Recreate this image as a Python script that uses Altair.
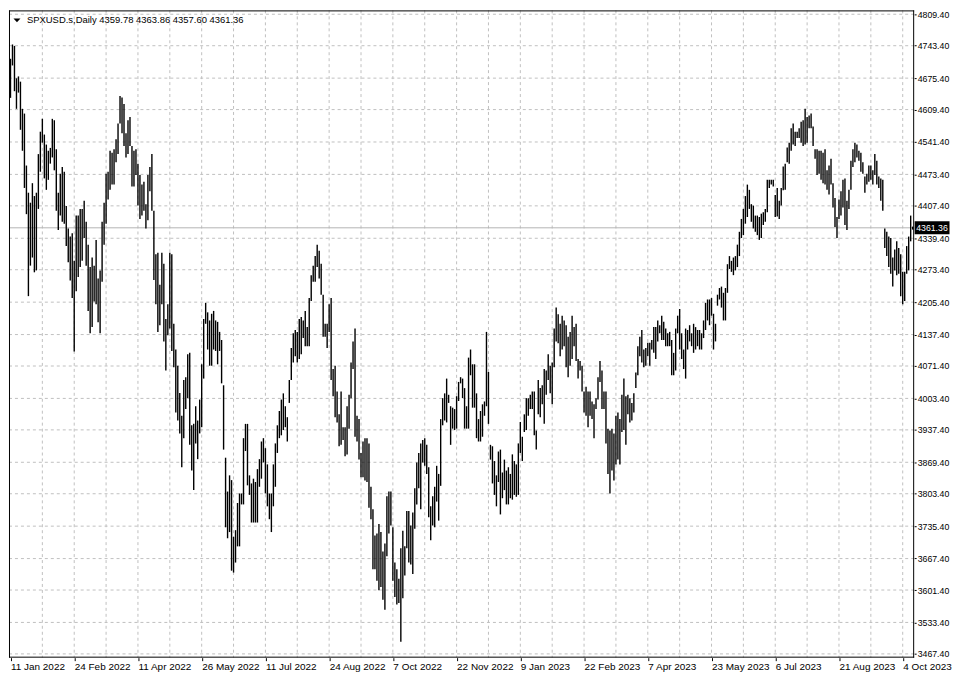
import altair as alt
import pandas as pd

# ---- data (daily bars, high / low) ----
highs = [
    4716, 4746, 4743, 4675, 4679, 4668, 4611, 4601, 4492, 4435,
    4414, 4455, 4428, 4435, 4516, 4563, 4590, 4557, 4536, 4523,
    4529, 4590, 4587, 4526, 4435, 4475, 4489, 4479, 4407, 4360,
    4343, 4350, 4292, 4387, 4387, 4401, 4401, 4418, 4374, 4326,
    4279, 4299, 4282, 4336, 4255, 4272, 4374, 4414, 4475, 4479,
    4523, 4519, 4526, 4547, 4580, 4638, 4635, 4621, 4560, 4587,
    4594, 4533, 4523, 4526, 4496, 4472, 4452, 4458, 4411, 4472,
    4489, 4516, 4397, 4306, 4309, 4242, 4309, 4286, 4170, 4201,
    4309, 4306, 4160, 4106, 4072, 4015, 3967, 4042, 4048, 4096,
    4099, 3947, 3950, 3987, 3957, 4001, 4075, 4170, 4204, 4184,
    4167, 4181, 4187, 4167, 4164, 4143, 4126, 4031, 3879, 3808,
    3842, 3832, 3713, 3727, 3784, 3804, 3804, 3920, 3950, 3950,
    3842, 3825, 3835, 3828, 3855, 3876, 3913, 3920, 3899, 3865,
    3804, 3804, 3865, 3909, 3947, 3977, 4001, 4014, 3987, 3964,
    4042, 4109, 4140, 4147, 4143, 4170, 4174, 4167, 4187, 4153,
    4214, 4262, 4282, 4302, 4326, 4313, 4286, 4221, 4160, 4160,
    4201, 4214, 4065, 4072, 4018, 3970, 4018, 3943, 3943, 3987,
    4011, 4079, 4123, 4150, 3967, 3960, 3889, 3913, 3920, 3920,
    3909, 3818, 3771, 3716, 3720, 3740, 3723, 3682, 3699, 3798,
    3808, 3808, 3733, 3659, 3645, 3625, 3689, 3726, 3693, 3767,
    3767, 3737, 3764, 3815, 3869, 3889, 3909, 3916, 3920, 3906,
    3859, 3777, 3798, 3818, 3862, 3845, 3960, 4004, 4014, 4045,
    4011, 3987, 3984, 3981, 4008, 4038, 4048, 4045, 4025, 3987,
    4089, 4106, 4075, 4075, 4014, 3960, 3977, 3991, 3997, 4143,
    4059, 3906, 3903, 3872, 3842, 3892, 3896, 3848, 3875, 3852,
    3859, 3845, 3886, 3872, 3865, 3909, 3954, 3923, 3970, 4004,
    4004, 4011, 4018, 4018, 3936, 4042, 4025, 4031, 4065, 4062,
    4096, 4072, 4079, 4150, 4194, 4180, 4160, 4177, 4167, 4157,
    4133, 4143, 4177, 4153, 4160, 4086, 4082, 4072, 4018, 4028,
    4018, 4018, 3997, 3991, 4004, 4048, 4082, 4062, 4018, 4018,
    3940, 3936, 3940, 3930, 3967, 3974, 3960, 4011, 4045, 4008,
    4011, 4004, 3994, 4014, 4058, 4113, 4133, 4147, 4106, 4109,
    4120, 4120, 4126, 4153, 4153, 4167, 4157, 4177, 4164, 4150,
    4140, 4143, 4126, 4099, 4150, 4177, 4191, 4140, 4106, 4150,
    4147, 4157, 4140, 4160, 4153, 4147, 4147, 4140, 4167, 4204,
    4211, 4211, 4214, 4181, 4160, 4221, 4235, 4238, 4225, 4235,
    4285, 4302, 4292, 4299, 4302, 4326, 4353, 4380, 4401, 4428,
    4452, 4441, 4411, 4408, 4387, 4387, 4384, 4391, 4394, 4401,
    4462, 4462, 4462, 4462, 4430, 4445, 4418, 4445, 4490, 4496,
    4530, 4540, 4570, 4580, 4563, 4563, 4570, 4584, 4587, 4611,
    4594, 4597, 4601, 4574, 4526, 4526, 4523, 4523, 4519, 4526,
    4482, 4492, 4506, 4455, 4424, 4384, 4421, 4438, 4462, 4465,
    4418, 4441, 4502, 4526, 4540, 4536, 4523, 4519, 4499, 4469,
    4475, 4492, 4492, 4482, 4516, 4502, 4469, 4465, 4462, 4360,
    4353, 4343, 4340, 4299, 4316, 4333, 4319, 4306, 4269, 4269,
    4323, 4343, 4387, 4363.86,
]
lows = [
    4634, 4702, 4648, 4611, 4645, 4567, 4523, 4445, 4390, 4218,
    4282, 4299, 4268, 4272, 4401, 4479, 4540, 4465, 4441, 4462,
    4496, 4509, 4482, 4397, 4357, 4387, 4374, 4370, 4323, 4289,
    4251, 4214, 4102, 4228, 4258, 4279, 4292, 4340, 4282, 4187,
    4140, 4153, 4207, 4201, 4163, 4140, 4248, 4326, 4370, 4421,
    4441, 4452, 4452, 4499, 4516, 4580, 4560, 4533, 4509, 4516,
    4533, 4448, 4448, 4472, 4408, 4380, 4387, 4397, 4360, 4377,
    4438, 4397, 4252, 4201, 4143, 4157, 4201, 4123, 4062, 4136,
    4150, 4103, 4069, 3974, 3957, 3930, 3859, 3920, 3981, 4004,
    3906, 3852, 3811, 3909, 3876, 3930, 3943, 4045, 4160, 4106,
    4072, 4072, 4106, 4103, 4075, 4103, 4035, 3896, 3733, 3710,
    3723, 3642, 3638, 3659, 3693, 3693, 3781, 3781, 3893, 3821,
    3801, 3743, 3743, 3743, 3743, 3818, 3835, 3869, 3804, 3777,
    3750, 3723, 3777, 3818, 3889, 3920, 3926, 3937, 3943, 3913,
    3994, 4042, 4079, 4092, 4079, 4086, 4096, 4130, 4113, 4113,
    4113, 4208, 4248, 4248, 4279, 4255, 4221, 4133, 4133, 4109,
    4143, 4042, 4008, 3964, 3953, 3903, 3906, 3916, 3882, 3886,
    3940, 4004, 4065, 3923, 3913, 3875, 3838, 3838, 3831, 3828,
    3774, 3750, 3645, 3645, 3621, 3601, 3608, 3581, 3560, 3672,
    3720, 3737, 3621, 3587, 3571, 3574, 3493, 3584, 3632, 3689,
    3659, 3655, 3635, 3730, 3781, 3815, 3771, 3869, 3862, 3845,
    3754, 3706, 3737, 3733, 3787, 3747, 3820, 3947, 3957, 3953,
    3994, 3906, 3940, 3937, 3940, 3998, 4035, 4004, 3940, 3940,
    3940, 4052, 3984, 3984, 3920, 3913, 3913, 3923, 3967, 3987,
    3950, 3875, 3825, 3801, 3777, 3828, 3760, 3794, 3811, 3781,
    3781, 3794, 3791, 3801, 3797, 3801, 3889, 3872, 3933, 3937,
    3967, 3981, 3981, 3926, 3896, 3970, 3964, 3991, 3950, 4011,
    4042, 4014, 3991, 4069, 4123, 4119, 4092, 4106, 4113, 4069,
    4048, 4072, 4086, 4113, 4082, 4045, 4062, 4018, 3974, 3967,
    3943, 3967, 3960, 3920, 3981, 4001, 4038, 3981, 3981, 3909,
    3845, 3804, 3852, 3831, 3865, 3875, 3865, 3933, 3937, 3906,
    3970, 3953, 3957, 3974, 4025, 4052, 4092, 4079, 4069, 4072,
    4092, 4072, 4106, 4099, 4086, 4123, 4140, 4126, 4126, 4113,
    4113, 4113, 4052, 4052, 4062, 4140, 4106, 4086, 4065, 4045,
    4106, 4123, 4113, 4099, 4106, 4113, 4106, 4106, 4130, 4147,
    4167, 4157, 4177, 4106, 4123, 4198, 4211, 4194, 4167, 4167,
    4225, 4275, 4269, 4262, 4272, 4279, 4302, 4340, 4346, 4370,
    4384, 4401, 4374, 4360, 4353, 4346, 4336, 4340, 4367, 4374,
    4394, 4445, 4452, 4448, 4384, 4385, 4380, 4408, 4440, 4441,
    4499, 4496, 4523, 4536, 4533, 4550, 4550, 4540, 4533, 4536,
    4540, 4570, 4570, 4533, 4506, 4472, 4475, 4462, 4455, 4452,
    4441, 4431, 4452, 4404, 4363, 4340, 4380, 4387, 4404, 4367,
    4357, 4401, 4441, 4489, 4499, 4509, 4502, 4479, 4475, 4435,
    4452, 4458, 4462, 4452, 4472, 4452, 4445, 4418, 4397, 4319,
    4302, 4279, 4265, 4238, 4272, 4262, 4265, 4218, 4201, 4208,
    4265, 4272, 4333, 4357.60,
]

x_labels = ["11 Jan 2022", "24 Feb 2022", "11 Apr 2022", "26 May 2022",
            "11 Jul 2022", "24 Aug 2022", "7 Oct 2022", "22 Nov 2022",
            "9 Jan 2023", "22 Feb 2023", "7 Apr 2023", "23 May 2023",
            "6 Jul 2023", "21 Aug 2023", "4 Oct 2023"]
label_step = 32      # bars between date labels
grid_step = 16       # bars between vertical grid lines

y_labels = [4809.40, 4743.40, 4675.40, 4609.40, 4541.40, 4473.40, 4407.40,
            4339.40, 4273.40, 4205.40, 4137.40, 4071.40, 4003.40, 3937.40,
            3869.40, 3803.40, 3735.40, 3667.40, 3601.40, 3533.40, 3467.40]

symbol = "SPXUSD.s,Daily"
last_ohlc = [4359.78, 4363.86, 4357.60, 4361.36]

# ---- layout ----
W, H = 909, 650
FONT = "Liberation Sans"
GRID = "#c0c0c0"

n = len(highs)
bars = pd.DataFrame({"i": list(range(n)), "high": highs, "low": lows})
label_idx = [k * label_step for k in range(len(x_labels))]
vgrid = pd.DataFrame({"i": list(range(grid_step, n, grid_step))})
hgrid = pd.DataFrame({"p": y_labels})
one = pd.DataFrame({"k": [0]})

# two pixels per bar
xs = alt.Scale(domain=[-0.75, -0.75 + W / 2], nice=False, zero=False, round=False)
ys = alt.Scale(domain=[3459.5, 4817.5], nice=False, zero=False, round=False)

expr = "''"
for idx, lab in reversed(list(zip(label_idx, x_labels))):
    expr = f"datum.value == {idx} ? '{lab}' : ({expr})"

x_axis = alt.Axis(values=label_idx, labelExpr=expr, labelAlign="left",
                  labelPadding=1, tickSize=3, tickColor="black", domain=False,
                  grid=False, title=None, labelFont=FONT, labelFontSize=10,
                  labelColor="black", labelOverlap=False, labelFlush=False)
y_axis = alt.Axis(orient="right", values=y_labels, format=".2f", tickSize=2,
                  tickColor="black", domain=False, grid=False, title=None,
                  labelFont=FONT, labelFontSize=8.8, labelColor="black",
                  labelPadding=1, labelOverlap=False, labelFlush=False)


def X(field):
    return alt.X(field, scale=xs, axis=x_axis)


def Y(field):
    return alt.Y(field, scale=ys, axis=y_axis)


vlines = alt.Chart(vgrid).mark_rule(color=GRID, strokeDash=[3, 3], strokeWidth=1).encode(
    x=X("i:Q"))
hlines = alt.Chart(hgrid).mark_rule(color=GRID, strokeDash=[3, 3], strokeWidth=1).encode(
    y=Y("p:Q"))

bid = pd.DataFrame({"p": [last_ohlc[3]]})
bid_line = alt.Chart(bid).mark_rule(color="#b4b4b4", strokeWidth=1).encode(y=Y("p:Q"))

bar_marks = alt.Chart(bars).mark_rule(color="#000000", strokeWidth=1.4, opacity=1,
                                      strokeOpacity=1).encode(
    x=X("i:Q"), y=Y("low:Q"), y2="high:Q")

# chart frame
frame_v = [alt.Chart(one).mark_rule(color="black", strokeWidth=1).encode(
    x=alt.value(px), y=alt.value(0), y2=alt.value(H)) for px in (0.5, W - 0.5)]
frame_h = [alt.Chart(one).mark_rule(color="black", strokeWidth=1).encode(
    y=alt.value(py), x=alt.value(0), x2=alt.value(W)) for py in (0.5, H - 0.5)]

header_text = symbol + "  " + " ".join(f"{v:.2f}" for v in last_ohlc)
header = alt.Chart(pd.DataFrame({"t": [header_text]})).mark_text(
    align="left", baseline="middle", font=FONT, fontSize=9.5, color="black").encode(
    x=alt.value(18), y=alt.value(10), text="t:N")
tri = alt.Chart(one).mark_point(
    shape="M-1,-0.55L1,-0.55L0,0.55Z", filled=True, color="black", size=49, opacity=1).encode(
    x=alt.value(8), y=alt.value(10))

tag_box = alt.Chart(bid).mark_point(
    shape="M-1,-0.37L1,-0.37L1,0.37L-1,0.37Z", filled=True, color="black",
    size=1225, opacity=1, strokeWidth=0).encode(
    x=alt.value(W + 18), y=Y("p:Q"))
tag_text = alt.Chart(bid).mark_text(
    align="left", baseline="middle", font=FONT, fontSize=8.8, color="white").encode(
    x=alt.value(W + 2), y=Y("p:Q"), text=alt.Text("p:Q", format=".2f"))

chart = alt.layer(vlines, hlines, bid_line, bar_marks, *frame_v, *frame_h,
                  header, tri, tag_box, tag_text).properties(
    width=W, height=H, padding=0, background="white"
).configure_view(stroke=None)

chart.save("out.html", embed_options={"renderer": "svg", "actions": False})
